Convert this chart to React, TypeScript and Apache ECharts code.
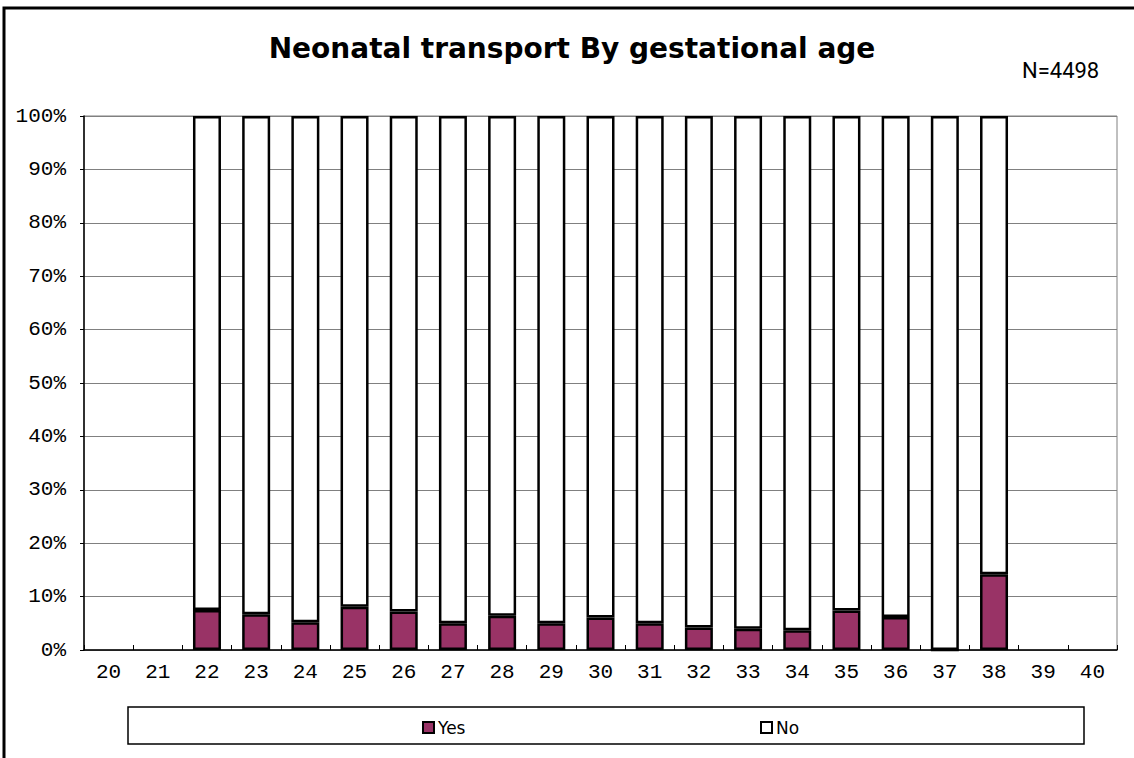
import React, { useEffect, useRef } from "react";
import * as echarts from "echarts";

const categories = ["20","21","22","23","24","25","26","27","28","29","30","31","32","33","34","35","36","37","38","39","40"];
const yesValues: (number | string)[] = ["-","-",7.5,6.7,5.2,8.1,7.2,5.0,6.4,5.0,6.1,5.0,4.2,4.0,3.7,7.4,6.2,0,14.2,"-","-"];
const noValues: (number | string)[] = ["-","-",92.5,93.3,94.8,91.9,92.8,95.0,93.6,95.0,93.9,95.0,95.8,96.0,96.3,92.6,93.8,100,85.8,"-","-"];
const yTicks = { min: 0, max: 100, interval: 10 };
const titleText = "Neonatal transport By gestational age";
const noteText = "N=4498";

export default function App() {
  const ref = useRef<HTMLDivElement>(null);
  useEffect(() => {
    if (!ref.current) return;
    const chart = echarts.init(ref.current, null, { renderer: "svg" });
    const barStyle = (color: string) => ({ color, borderColor: "#000", borderWidth: 2.5 });
    const legendBase = {
      itemWidth: 11, itemHeight: 11, itemGap: 5, padding: 0, icon: "rect",
      textStyle: { fontFamily: "DejaVu Sans", fontSize: 17, color: "#000", padding: [0, 0, 0, -1] },
      itemStyle: { borderColor: "#000", borderWidth: 2 },
    };
    chart.setOption({
      animation: false,
      backgroundColor: "#fff",
      grid: { left: 84, right: 17, top: 116, bottom: 108, show: true, borderColor: "#808080", borderWidth: 1 },
      legend: [
        { ...legendBase, data: ["Yes"], left: 422, top: 719 },
        { ...legendBase, data: ["No"], left: 760, top: 719 },
      ],
      xAxis: {
        type: "category",
        data: categories,
        boundaryGap: true,
        axisLine: { lineStyle: { color: "#000", width: 1.5 } },
        axisTick: { show: true, inside: true, length: 5, interval: 0, lineStyle: { color: "#000" } },
        axisLabel: { interval: 0, margin: 12, fontFamily: "Liberation Mono", fontSize: 21, color: "#000" },
        splitLine: { show: false },
      },
      yAxis: {
        type: "value",
        min: yTicks.min, max: yTicks.max, interval: yTicks.interval,
        axisLine: { show: true, lineStyle: { color: "#000", width: 1.5 } },
        axisTick: { show: true, length: 4, lineStyle: { color: "#000" } },
        axisLabel: { formatter: "{value}%", margin: 18, fontFamily: "Liberation Mono", fontSize: 21, color: "#000" },
        splitLine: { show: true, lineStyle: { color: "#808080", width: 1 } },
      },
      series: [
        { name: "Yes", type: "bar", stack: "total", barWidth: 28, data: yesValues, itemStyle: barStyle("#993366") },
        { name: "No", type: "bar", stack: "total", barWidth: 28, data: noValues, itemStyle: barStyle("#ffffff") },
      ],
      graphic: [
        { type: "rect", silent: true, z: 100, shape: { x: 4, y: 8, width: 1200, height: 800 }, style: { fill: "none", stroke: "#000", lineWidth: 3 } },
        { type: "rect", silent: true, z: -1, shape: { x: 128, y: 707, width: 956, height: 37 }, style: { fill: "#fff", stroke: "#000", lineWidth: 1.5 } },
        { type: "text", x: 572, y: 48, style: { text: titleText, textAlign: "center", textVerticalAlign: "middle", fontFamily: "DejaVu Sans", fontWeight: "bold", fontSize: 28, fill: "#000" } },
        { type: "text", x: 1022, y: 70, style: { text: noteText, textAlign: "left", textVerticalAlign: "middle", fontFamily: "Roboto", fontSize: 22, fill: "#000" } },
      ],
    });
    return () => chart.dispose();
  }, []);
  return <div ref={ref} style={{ position: "fixed", left: 0, top: 0, width: 1134, height: 758 }} />;
}
